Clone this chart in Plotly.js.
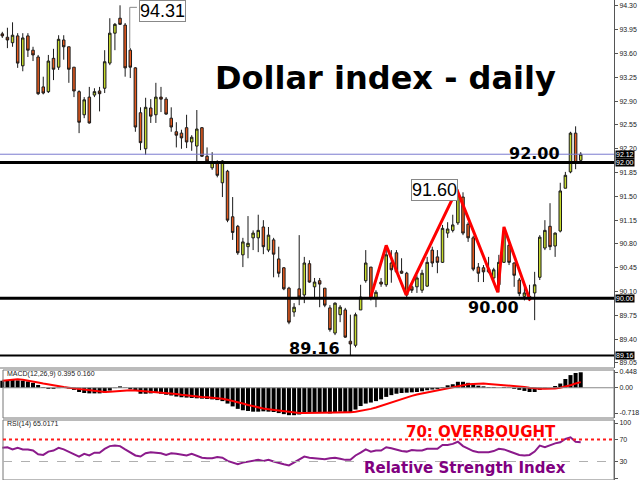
<!DOCTYPE html>
<html><head><meta charset="utf-8">
<script src="https://cdn.plot.ly/plotly-3.0.1.min.js"></script>
<style>html,body{margin:0;padding:0;background:#fff}#chart{width:640px;height:480px}</style>
</head><body><div id="chart"></div>
<script>
// Daily OHLC of the Dollar index
const openP = [93.89,93.84,93.76,93.86,93.42,93.86,93.65,93.55,93.11,93.04,
93.53,93.40,93.80,93.70,93.40,93.04,92.70,92.96,92.99,93.05,
93.09,93.46,93.90,94.12,94.02,93.65,93.39,92.73,92.20,92.80,
92.70,92.96,92.93,92.65,92.45,92.43,92.51,92.30,92.24,92.51,
92.09,91.92,92.00,91.70,91.87,91.20,91.06,90.64,90.76,90.89,
90.89,91.05,90.71,90.86,90.58,90.45,90.15,89.80,90.14,90.05,
90.51,90.17,90.26,90.15,89.86,89.49,89.76,89.83,89.37,89.31,
89.83,90.26,90.46,90.00,90.24,90.20,90.52,90.67,90.40,90.37,
90.17,90.17,90.12,90.18,90.71,90.61,90.53,90.96,91.00,91.11,
91.49,91.09,90.89,90.46,90.45,90.39,90.30,90.20,90.53,90.78,
90.52,90.27,90.03,90.03,90.08,90.31,90.74,91.06,90.77,90.99,
91.62,91.86,92.43,92.03];
const highP = [93.92,93.98,94.06,93.90,93.90,93.90,93.70,93.58,93.26,93.58,
93.67,93.87,93.87,93.70,93.40,93.06,92.96,93.11,93.09,93.11,
93.65,94.12,94.05,94.31,94.05,93.68,93.40,92.81,92.95,92.93,
93.17,93.11,92.96,92.81,92.59,92.48,92.70,92.40,92.77,92.52,
92.22,92.15,92.03,92.03,91.89,91.49,91.08,90.89,91.21,91.00,
91.23,91.15,91.05,90.89,90.76,90.46,90.17,89.93,90.93,90.61,
90.56,90.30,90.30,90.15,89.90,89.94,89.90,89.86,89.76,89.79,
90.20,90.71,90.46,90.12,90.30,90.78,90.71,90.71,90.59,90.39,
90.23,90.34,90.42,90.61,90.76,90.71,91.08,91.12,91.23,91.60,
91.56,91.12,90.92,90.52,90.49,90.61,90.45,90.64,91.05,90.86,
90.53,90.30,90.17,90.20,90.39,90.93,91.15,91.40,90.97,91.70,
91.86,92.45,92.53,92.15];
const lowP = [93.83,93.68,93.70,93.39,93.34,93.55,93.49,92.99,93.00,93.02,
93.21,93.36,93.51,93.17,92.96,92.43,92.65,92.57,92.96,92.75,
93.02,93.43,93.65,94.02,93.26,93.24,92.45,92.18,92.11,92.58,
92.58,92.74,92.70,92.45,92.22,92.20,92.21,92.17,92.00,92.08,
91.99,91.89,91.78,91.49,91.12,90.86,90.64,90.46,90.59,90.71,
90.68,90.65,90.68,90.31,90.31,90.12,89.62,89.73,89.90,89.93,
90.23,90.02,89.87,89.87,89.51,89.46,89.65,89.42,89.16,89.28,
89.83,90.23,89.97,89.87,90.17,90.17,90.23,90.37,90.36,90.00,
90.08,90.08,90.08,90.17,90.46,90.37,90.52,90.89,90.97,91.08,
90.93,90.83,90.40,90.24,90.24,90.37,90.24,90.09,90.52,90.49,
90.17,90.03,89.97,89.96,89.68,90.27,90.71,90.71,90.61,90.97,
91.62,91.84,91.90,92.00];
const closeP = [93.86,93.80,93.87,93.46,93.83,93.65,93.58,93.01,93.02,93.49,
93.37,93.81,93.70,93.37,93.05,92.59,92.92,92.58,93.04,93.01,
93.48,93.90,94.03,94.03,93.39,93.40,92.52,92.29,92.81,92.68,
92.96,92.93,92.71,92.52,92.40,92.36,92.30,92.37,92.49,92.09,
92.02,92.00,91.81,92.02,91.15,90.97,90.67,90.83,90.81,90.96,
91.00,90.76,90.93,90.65,90.37,90.14,89.65,89.87,90.02,90.52,
90.24,90.24,90.21,89.90,89.54,89.93,89.87,89.43,89.33,89.76,
90.02,90.52,90.02,90.09,90.21,90.64,90.42,90.39,90.37,90.05,
90.12,90.30,90.37,90.53,90.52,90.53,91.03,91.02,91.08,91.52,
90.96,90.89,90.43,90.37,90.39,90.43,90.42,90.53,90.97,90.53,
90.34,90.07,90.08,90.00,90.20,90.90,91.00,90.76,90.96,91.58,
91.81,92.43,91.99,92.12];

// MACD(12,26,9): main (histogram) and signal line
const macdHist = [0.20,0.22,0.22,0.21,0.20,0.18,0.14,0.08,0.02,-0.03,
-0.03,-0.01,0.00,-0.02,-0.06,-0.12,-0.15,-0.16,-0.16,-0.16,
-0.14,-0.08,-0.01,0.04,0.01,-0.04,-0.08,-0.17,-0.17,-0.16,
-0.15,-0.17,-0.20,-0.22,-0.25,-0.27,-0.28,-0.29,-0.30,-0.31,
-0.32,-0.33,-0.35,-0.38,-0.45,-0.53,-0.60,-0.64,-0.66,-0.68,
-0.68,-0.67,-0.68,-0.69,-0.72,-0.75,-0.78,-0.78,-0.76,-0.71,
-0.70,-0.70,-0.70,-0.70,-0.73,-0.70,-0.68,-0.69,-0.70,-0.62,
-0.52,-0.45,-0.42,-0.38,-0.33,-0.26,-0.21,-0.17,-0.15,-0.14,
-0.13,-0.12,-0.10,-0.07,-0.05,-0.04,0.02,0.07,0.10,0.17,
0.17,0.14,0.10,0.06,0.04,0.02,0.02,0.00,0.02,0.01,
-0.03,-0.06,-0.09,-0.12,-0.12,-0.06,-0.02,0.00,0.05,0.12,
0.25,0.36,0.42,0.44];
const macdSignal = [0.20,0.22,0.24,0.24,0.23,0.21,0.18,0.15,0.12,0.09,
0.06,0.04,0.02,0.00,-0.02,-0.04,-0.06,-0.08,-0.10,-0.11,
-0.12,-0.11,-0.10,-0.08,-0.07,-0.07,-0.08,-0.09,-0.10,-0.11,
-0.12,-0.13,-0.14,-0.16,-0.18,-0.20,-0.22,-0.23,-0.25,-0.26,
-0.27,-0.28,-0.30,-0.31,-0.34,-0.37,-0.41,-0.45,-0.49,-0.53,
-0.56,-0.59,-0.61,-0.63,-0.65,-0.67,-0.69,-0.71,-0.72,-0.72,
-0.72,-0.72,-0.71,-0.71,-0.71,-0.71,-0.70,-0.70,-0.70,-0.68,
-0.66,-0.63,-0.60,-0.56,-0.51,-0.46,-0.41,-0.36,-0.31,-0.27,
-0.23,-0.19,-0.16,-0.13,-0.10,-0.08,-0.05,-0.02,0.01,0.04,
0.07,0.10,0.11,0.12,0.12,0.11,0.10,0.09,0.08,0.07,
0.06,0.04,0.02,0.00,-0.02,-0.03,-0.03,-0.03,-0.02,0.00,
0.03,0.07,0.12,0.16];

// RSI(14)
const rsi = [55,56,52,55,52,52,50,43,42,48,
50,55,52,48,43,39,44,41,46,46,
53,58,59,58,52,47,41,39,45,47,
46,45,42,45,44,42,41,44,41,37,
36,36,38,37,31,28,25,28,30,32,
33,31,33,30,27,25,23,28,33,39,
37,36,36,34,36,37,35,33,33,41,
46,52,48,50,50,56,54,51,49,48,
51,50,50,53,53,53,60,60,62,66,
58,54,49,47,47,47,49,53,52,49,
46,42,41,42,48,59,56,60,63,65,
71,74,66,65];

// Hand-drawn zigzag pattern (bar position, price)
const zigX = [72.9, 76.0, 79.9, 89.8, 97.8, 99.0, 104.1];
const zigY = [90.00, 90.78, 90.05, 91.60, 90.09, 91.05, 89.97];

// Axis tick labels
const priceTicks = ['89.05','89.40','89.75','90.10','90.45','90.80','91.15','91.50','91.85','92.20','92.55','92.90','93.25','93.60','93.95','94.30'];
const macdTicks = ['0.448','0.00','-0.718'];
const rsiTicks = ['100','70','30','0'];

// Key levels
const levelHigh = 94.31, levelTop = 91.60, levelRes = 92.00, levelSup = 90.00, levelLow = 89.16, lastPrice = 92.12;

const idx = openP.map((_, i) => i + 1);

const W = 614, H = 480;
const px = x => x / W;
const py = y => 1 - y / H;

const traces = [
  {type:'candlestick', x: idx, open: openP, high: highP, low: lowP, close: closeP,
   xaxis:'x', yaxis:'y', whiskerwidth:0, hoverinfo:'skip',
   increasing:{line:{color:'#1a1a1a', width:1}, fillcolor:'#c5d92b'},
   decreasing:{line:{color:'#1a1a1a', width:1}, fillcolor:'#e65a1e'}},
  {type:'scatter', mode:'lines', x: zigX, y: zigY, xaxis:'x', yaxis:'y',
   line:{color:'#ff0000', width:3}},
  {type:'bar', x: idx, y: macdHist, xaxis:'x', yaxis:'y2', marker:{color:'#000', line:{width:0}}, width:0.78},
  {type:'scatter', mode:'lines', x: idx, y: macdSignal, xaxis:'x', yaxis:'y2', line:{color:'#ff0000', width:2}},
  {type:'scatter', mode:'lines', x: idx, y: rsi, xaxis:'x', yaxis:'y3', line:{color:'#8b1a8b', width:2}}
];

const tickFont = {family:'Liberation Sans, Arial, sans-serif', size:7, color:'#222'};
const yCommon = {side:'right', showgrid:false, zeroline:false, showline:true, linecolor:'#555', linewidth:1,
  ticks:'outside', ticklen:3, tickcolor:'#555', tickfont: tickFont, fixedrange:true};

const shapes = [
  // panel borders
  {type:'line', xref:'paper', yref:'y domain', x0:0, x1:1, y0:0, y1:0, line:{color:'#777', width:1}},
  {type:'rect', xref:'paper', yref:'y2 domain', x0:px(3), x1:1, y0:0, y1:1, line:{color:'#777', width:1}},
  {type:'rect', xref:'paper', yref:'y3 domain', x0:px(3), x1:1, y0:0, y1:1.0, line:{color:'#777', width:1}},
  // price levels
  {type:'line', xref:'paper', yref:'y', x0:0, x1:1, y0:lastPrice, y1:lastPrice, line:{color:'#7b7bcf', width:1}},
  {type:'line', xref:'paper', yref:'y', x0:0, x1:1, y0:levelRes, y1:levelRes, line:{color:'#000', width:3}},
  {type:'line', xref:'paper', yref:'y', x0:0, x1:1, y0:levelSup, y1:levelSup, line:{color:'#000', width:3}},
  {type:'line', xref:'paper', yref:'y', x0:0, x1:1, y0:levelLow, y1:levelLow, line:{color:'#000', width:2}},
  // leader of 94.31 label
  {type:'path', xref:'x', yref:'y', path:'M 27.3 94.28 L 25.9 94.28 L 25.9 93.68', line:{color:'#888', width:1}},
  // MACD zero line
  {type:'line', xref:'paper', yref:'y2', x0:px(3), x1:1, y0:0, y1:0, line:{color:'#888', width:1}},
  // RSI levels
  {type:'line', xref:'paper', yref:'y3', x0:px(3), x1:1, y0:70, y1:70, line:{color:'#ff1a1a', width:2, dash:'dot'}},
  {type:'line', xref:'paper', yref:'y3', x0:px(3), x1:1, y0:30, y1:30, line:{color:'#b0b0b0', width:1, dash:'dash'}}
];

const axisBox = (v, txt) => ({xref:'paper', yref:'y', x:1, y:v, xanchor:'left', yanchor:'middle', xshift:1,
  text:txt, showarrow:false, bgcolor:'#000', borderpad:0,
  font:{family:'Liberation Sans, Arial, sans-serif', size:7, color:'#fff'}});

const txt = (x, y, text, font, extra) => Object.assign({xref:'paper', yref:'paper', x:px(x), y:py(y),
  xanchor:'center', yanchor:'middle', text:text, showarrow:false, font:font}, extra || {});

const boldFont = (size, color) => ({family:'DejaVu Sans, sans-serif', size:size, color:color});
const boxOpts = {bgcolor:'#fff', bordercolor:'#888', borderwidth:1, borderpad:0};
const boxFont = {family:'Liberation Sans, Arial, sans-serif', size:18, color:'#000'};
const smallFont = {family:'Liberation Sans, Arial, sans-serif', size:7, color:'#222'};

const annotations = [
  txt(386, 78, '<b>Dollar index - daily</b>', boldFont(32, '#000')),
  txt(534.5, 153, '<b>' + levelRes.toFixed(2) + '</b>', boldFont(16, '#000')),
  txt(493, 307.5, '<b>' + levelSup.toFixed(2) + '</b>', boldFont(16, '#000')),
  txt(314.5, 348.5, '<b>' + levelLow.toFixed(2) + '</b>', boldFont(16, '#000')),
  txt(162, 11, levelHigh.toFixed(2), boxFont, boxOpts),
  txt(434.5, 190, levelTop.toFixed(2), boxFont, boxOpts),
  txt(481, 432, '<b>70: OVERBOUGHT</b>', boldFont(15, '#ff0000')),
  txt(464.5, 468, '<b>Relative Strength Index</b>', boldFont(15, '#800080')),
  txt(5, 374, 'MACD(12,26,9) 0.395 0.160', smallFont, {xanchor:'left'}),
  txt(5, 424, 'RSI(14) 65.0171', smallFont, {xanchor:'left'}),
  axisBox(lastPrice, lastPrice.toFixed(2)),
  axisBox(levelRes, levelRes.toFixed(2)),
  axisBox(levelSup, levelSup.toFixed(2)),
  axisBox(levelLow, levelLow.toFixed(2))
];

const layout = {
  width:640, height:480, margin:{l:0, r:26, t:0, b:0}, autosize:false,
  paper_bgcolor:'#fff', plot_bgcolor:'#fff', showlegend:false, hovermode:false,
  xaxis:{range:[0.55, 120.5], visible:false, fixedrange:true, rangeslider:{visible:false}, anchor:'y'},
  yaxis: Object.assign({}, yCommon, {domain:[1 - 368/480, 1], range:[88.976, 94.388],
    tickvals: priceTicks.map(Number), ticktext: priceTicks, anchor:'x'}),
  yaxis2: Object.assign({}, yCommon, {domain:[1 - 418/480, 1 - 370/480], range:[-0.86, 0.505],
    tickvals: macdTicks.map(Number), ticktext: macdTicks, anchor:'x'}),
  yaxis3: Object.assign({}, yCommon, {domain:[0, 1 - 420/480], range:[-3.6, 105.45],
    tickvals: rsiTicks.map(Number), ticktext: rsiTicks, anchor:'x'}),
  bargap:0.2, shapes: shapes, annotations: annotations
};

Plotly.newPlot('chart', traces, layout, {staticPlot:true, displayModeBar:false});
</script>
</body></html>
